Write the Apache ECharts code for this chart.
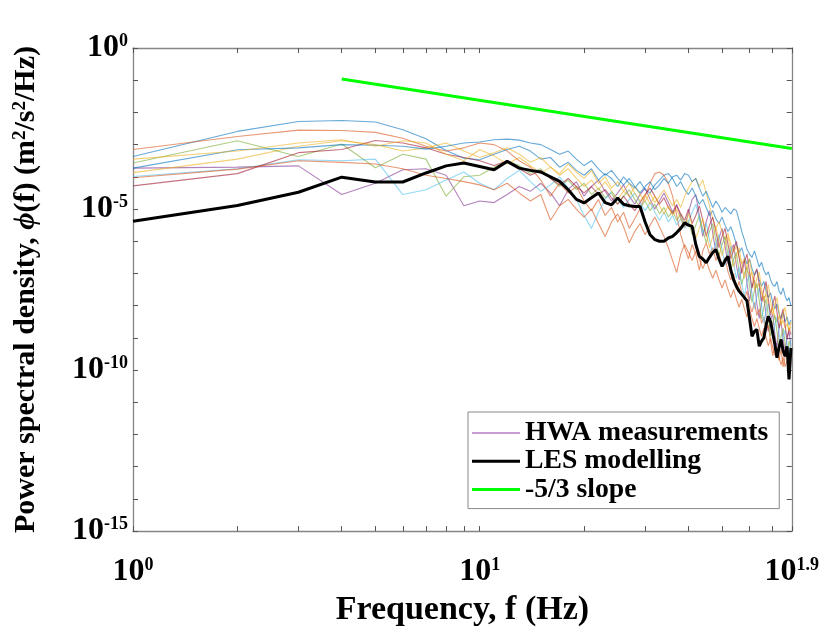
<!DOCTYPE html>
<html>
<head>
<meta charset="utf-8">
<script src="https://cdn.jsdelivr.net/npm/echarts@6/dist/echarts.min.js"></script>
<style>html,body{margin:0;padding:0;background:#fff}#c{width:822px;height:632px}</style>
</head>
<body>
<div id="c"></div>
<script>
// Frequencies (Hz)
const freqHz = [1,2,3,4,5,6,7,8,9,10,11,12,13,14,15,16,17,18,19,20,21,22,23,24,25,26,27,28,29,30,31,32,33,34,35,36,37,38,39,40,41,42,43,44,45,46,47,48,49,50,51,52,53,54,55,56,57,58,59,60,61,62,63,64,65,66,67,68,69,70,71,72,73,74,75,76,77,78,79];

// log10 of power spectral density (m^2/s^2/Hz)
const hwaPurpleLog = [-3.73,-3.70,-3.66,-4.55,-4.20,-3.78,-3.75,-3.95,-4.90,-4.75,-4.80,-4.55,-4.30,-4.45,-4.20,-4.50,-4.90,-4.40,-4.15,-4.60,-4.30,-4.10,-4.45,-4.75,-4.50,-4.25,-4.60,-4.85,-4.55,-4.35,-4.70,-5.00,-4.75,-4.50,-4.80,-5.10,-4.85,-5.25,-5.55,-5.10,-4.70,-4.55,-5.20,-5.85,-5.40,-5.05,-5.75,-6.35,-5.90,-5.60,-6.15,-6.70,-6.30,-6.10,-6.75,-7.20,-6.85,-6.55,-7.30,-7.85,-7.40,-7.20,-7.95,-8.40,-7.90,-7.70,-8.35,-8.80,-8.45,-8.25,-8.90,-9.30,-8.70,-8.50,-9.05,-9.40,-9.00,-8.80,-9.25];
const hwaBlue1Log = [-3.37,-2.59,-2.28,-2.25,-2.30,-2.54,-2.82,-3.18,-3.42,-3.47,-3.30,-3.15,-3.05,-3.20,-3.45,-3.40,-3.70,-3.55,-3.80,-3.95,-3.75,-4.10,-3.90,-4.05,-4.30,-4.00,-4.20,-4.35,-4.15,-4.40,-4.50,-4.25,-4.10,-3.95,-3.90,-4.05,-4.30,-4.15,-4.40,-4.55,-4.35,-4.60,-4.85,-4.70,-4.95,-5.20,-5.05,-5.30,-5.45,-5.25,-5.50,-5.70,-5.55,-5.80,-6.10,-6.35,-6.20,-6.50,-6.70,-6.55,-6.85,-7.05,-6.90,-7.20,-7.40,-7.25,-7.55,-7.75,-7.60,-7.90,-8.10,-7.95,-8.25,-8.40,-8.20,-8.50,-8.35,-8.60,-8.45];
const hwaOrange1Log = [-3.15,-2.75,-2.55,-2.56,-2.62,-2.80,-3.05,-3.20,-3.10,-2.95,-3.00,-3.20,-3.50,-3.70,-4.10,-4.60,-4.20,-4.50,-4.30,-4.75,-5.05,-4.70,-5.20,-4.95,-5.40,-5.10,-5.60,-5.30,-5.00,-4.60,-4.20,-3.90,-3.85,-3.95,-4.20,-4.60,-5.20,-5.80,-6.20,-6.55,-6.10,-6.40,-6.90,-6.30,-6.05,-6.40,-6.20,-6.60,-6.35,-6.80,-6.50,-6.95,-7.20,-7.00,-7.50,-7.25,-7.60,-7.80,-7.55,-7.95,-8.20,-7.90,-8.30,-8.10,-8.55,-8.35,-8.80,-8.60,-9.10,-9.55,-9.20,-9.45,-9.70,-9.35,-9.90,-9.60,-9.40,-9.75,-9.50];
const hwaYellow1Log = [-3.87,-3.45,-3.05,-2.88,-3.00,-3.20,-3.10,-2.95,-3.20,-3.40,-3.25,-3.10,-3.30,-3.55,-3.40,-3.70,-3.90,-3.60,-3.85,-4.05,-3.80,-4.20,-4.00,-4.35,-4.15,-4.45,-4.60,-4.30,-4.55,-4.75,-4.50,-4.80,-4.60,-4.40,-4.65,-4.90,-4.70,-4.95,-4.60,-4.35,-4.15,-4.05,-4.30,-4.10,-4.50,-4.90,-5.30,-5.60,-5.40,-5.70,-5.95,-5.75,-6.10,-6.35,-6.15,-6.50,-6.70,-6.55,-6.85,-7.10,-6.95,-7.25,-7.45,-7.30,-7.60,-7.80,-7.65,-7.95,-8.20,-8.05,-8.35,-8.50,-8.30,-8.60,-8.45,-8.70,-8.55,-8.80,-8.65];
const hwaGreenLog = [-3.57,-2.88,-3.37,-2.98,-3.72,-3.30,-3.45,-4.60,-4.00,-3.95,-3.70,-3.50,-3.65,-3.90,-3.75,-4.05,-4.30,-4.10,-4.40,-4.20,-4.55,-4.35,-4.65,-4.50,-4.85,-4.60,-4.40,-4.70,-4.95,-4.75,-5.05,-4.85,-5.15,-4.95,-5.25,-5.05,-5.35,-5.15,-5.45,-5.35,-5.80,-5.50,-5.20,-5.65,-6.05,-5.70,-5.45,-6.00,-6.45,-6.10,-5.85,-6.40,-6.90,-6.55,-6.35,-6.95,-7.35,-7.00,-6.80,-7.40,-7.90,-7.55,-7.30,-7.85,-8.40,-8.05,-7.80,-8.35,-8.95,-8.55,-8.30,-8.80,-9.35,-8.95,-8.70,-9.15,-9.50,-9.10,-9.30];
const hwaCyanLog = [-3.99,-3.75,-3.47,-3.50,-3.45,-4.55,-4.40,-4.10,-3.85,-4.20,-4.40,-4.05,-3.80,-4.15,-4.45,-4.25,-4.00,-4.35,-4.70,-5.20,-5.60,-5.10,-4.70,-4.45,-4.70,-4.95,-4.70,-4.50,-4.80,-5.05,-4.80,-5.10,-5.35,-5.10,-5.40,-5.20,-5.50,-5.30,-5.60,-5.40,-5.10,-4.85,-5.30,-5.75,-5.45,-5.95,-6.40,-6.05,-5.80,-6.25,-6.75,-6.40,-6.15,-6.70,-7.15,-6.80,-7.35,-7.70,-7.25,-7.05,-7.60,-8.10,-7.70,-7.45,-8.00,-8.55,-8.15,-7.95,-8.50,-9.00,-8.60,-8.35,-8.85,-9.30,-8.95,-8.75,-9.20,-9.55,-9.05];
const hwaRedLog = [-4.28,-3.90,-3.25,-3.15,-2.87,-2.95,-3.10,-3.30,-3.40,-3.50,-3.65,-3.50,-3.75,-3.95,-3.80,-4.05,-4.25,-4.05,-4.30,-4.50,-4.30,-4.55,-4.40,-4.65,-4.85,-4.60,-4.85,-5.05,-4.80,-4.55,-4.35,-4.60,-4.85,-4.65,-4.95,-5.15,-4.90,-5.15,-5.35,-5.00,-5.45,-5.20,-4.90,-5.35,-5.85,-5.50,-5.25,-5.70,-6.20,-5.85,-5.60,-6.10,-6.55,-6.25,-6.00,-6.50,-7.00,-6.65,-6.40,-6.95,-7.45,-7.05,-6.85,-7.35,-7.85,-7.50,-7.25,-7.80,-8.30,-7.95,-7.70,-8.20,-8.70,-8.35,-8.10,-8.60,-9.05,-8.70,-8.90];
const hwaBlue2Log = [-3.73,-3.16,-3.10,-3.00,-3.02,-3.05,-3.14,-3.05,-2.95,-2.92,-2.85,-2.83,-2.86,-2.95,-3.00,-3.15,-3.30,-3.20,-3.45,-3.65,-3.50,-3.75,-3.95,-3.80,-4.05,-4.25,-4.05,-4.30,-4.50,-4.30,-4.15,-4.40,-4.25,-4.05,-4.20,-4.00,-3.95,-4.10,-3.90,-3.95,-4.15,-4.05,-4.35,-4.60,-4.45,-4.70,-4.95,-4.75,-4.90,-5.10,-4.95,-5.05,-5.15,-5.00,-5.05,-5.35,-5.70,-5.95,-6.25,-6.40,-6.50,-6.30,-6.55,-6.80,-6.65,-6.90,-7.05,-6.95,-7.20,-7.35,-7.40,-7.25,-7.55,-7.65,-7.45,-7.70,-7.85,-7.75,-8.00];
const hwaOrange2Log = [-4.03,-3.76,-3.50,-3.55,-3.60,-3.75,-3.95,-4.05,-4.15,-4.25,-4.40,-4.20,-4.50,-4.75,-4.55,-5.35,-4.90,-4.70,-5.00,-5.25,-5.00,-5.45,-5.85,-5.40,-5.15,-5.55,-6.05,-5.70,-5.45,-5.80,-5.50,-5.25,-5.55,-5.85,-6.20,-6.60,-6.97,-6.40,-6.10,-6.35,-6.60,-6.30,-6.55,-6.85,-6.60,-6.90,-7.15,-6.90,-7.20,-7.45,-7.20,-7.50,-7.75,-7.50,-7.80,-8.05,-7.80,-8.10,-8.35,-8.10,-8.40,-8.65,-8.40,-8.70,-8.95,-8.70,-9.00,-9.25,-9.00,-9.30,-9.55,-9.30,-9.60,-9.85,-9.60,-9.90,-9.70,-9.95,-9.75];
const hwaYellow2Log = [-3.45,-3.20,-2.95,-2.85,-3.05,-2.88,-2.95,-3.30,-3.50,-3.15,-3.35,-3.60,-3.40,-3.65,-3.90,-3.70,-3.95,-3.75,-4.05,-4.30,-4.10,-4.40,-4.15,-4.45,-4.70,-4.45,-4.20,-4.50,-4.75,-4.55,-4.85,-4.60,-4.90,-5.15,-4.90,-5.20,-5.00,-5.30,-5.55,-5.15,-5.50,-5.90,-5.60,-5.30,-5.75,-6.20,-5.85,-5.55,-6.00,-6.45,-6.10,-5.85,-6.35,-6.80,-6.45,-6.20,-6.70,-7.15,-6.80,-6.55,-7.05,-7.50,-7.15,-6.95,-7.45,-7.90,-7.55,-7.35,-7.85,-8.30,-7.95,-7.75,-8.20,-8.60,-8.25,-8.05,-8.45,-8.80,-8.50];
const lesLog = [-5.38,-4.89,-4.48,-4.01,-4.16,-4.16,-3.88,-3.66,-3.57,-3.68,-3.78,-3.52,-3.73,-3.80,-3.85,-4.00,-4.14,-4.40,-4.70,-4.81,-4.65,-4.50,-4.80,-4.87,-4.66,-4.85,-4.90,-4.92,-4.92,-5.40,-5.80,-5.95,-6.00,-6.00,-5.90,-5.85,-5.73,-5.60,-5.43,-5.50,-5.54,-6.10,-6.47,-6.55,-6.67,-6.50,-6.35,-6.26,-6.55,-6.78,-6.60,-6.47,-6.90,-7.20,-7.40,-7.55,-7.65,-7.75,-7.85,-8.40,-8.95,-8.80,-8.74,-9.26,-9.10,-9.00,-8.60,-8.33,-8.50,-8.84,-9.20,-9.62,-9.30,-9.05,-9.40,-9.57,-9.26,-10.29,-9.31];

// -5/3 reference slope end points
const slopeFreq = [4, 79.43];
const slopeLog = [-0.96, -3.12];

// Tick positions and labels
const xTickValues = [1,2,3,4,5,6,7,8,9,10,20,30,40,50,60,70,79.43];
const xLabelValues = [1,10,79.43];
const yTickValues = [1,1e-1,1e-2,1e-3,1e-4,1e-5,1e-6,1e-7,1e-8,1e-9,1e-10,1e-11,1e-12,1e-13,1e-14,1e-15];
const yLabelValues = [1,1e-5,1e-10,1e-15];
const legendNames = ['HWA measurements', 'LES modelling', '-5/3 slope'];

const hwaSets = [
  {log: hwaPurpleLog, color: '#7E2F8E'},
  {log: hwaBlue1Log, color: '#0072BD'},
  {log: hwaOrange1Log, color: '#D95319'},
  {log: hwaYellow1Log, color: '#EDB120'},
  {log: hwaGreenLog, color: '#77AC30'},
  {log: hwaCyanLog, color: '#4DBEEE'},
  {log: hwaRedLog, color: '#A2142F'},
  {log: hwaBlue2Log, color: '#0072BD'},
  {log: hwaOrange2Log, color: '#D95319'},
  {log: hwaYellow2Log, color: '#EDB120'}
];

const FONT = '"Liberation Serif", "Times New Roman", serif';
const toPairs = (fs, logs) => fs.map((f, i) => [f, Math.pow(10, logs[i])]);

const series = hwaSets.map(s => ({
  name: legendNames[0], type: 'line', symbol: 'none',
  data: toPairs(freqHz, s.log),
  lineStyle: {color: s.color, width: 1.1, opacity: 0.6},
  itemStyle: {color: s.color},
  emphasis: {disabled: true}, z: 2, animation: false
}));
series.push({
  name: legendNames[1], type: 'line', symbol: 'none',
  data: toPairs(freqHz, lesLog),
  lineStyle: {color: '#000', width: 3}, itemStyle: {color: '#000'},
  emphasis: {disabled: true}, z: 3, animation: false
});
series.push({
  name: legendNames[2], type: 'line', symbol: 'none',
  data: toPairs(slopeFreq, slopeLog),
  lineStyle: {color: '#00FF00', width: 3}, itemStyle: {color: '#00FF00'},
  emphasis: {disabled: true}, z: 4, animation: false
});

const expOf = v => {
  const e = Math.round(Math.log10(v) * 10) / 10;
  return (e === 0 ? 0 : e).toString();
};
const richLbl = {
  b: {fontFamily: FONT, fontWeight: 'bold', fontSize: 32, color: '#000'},
  s: {fontFamily: FONT, fontWeight: 'bold', fontSize: 18, color: '#000', verticalAlign: 'top'}
};
const axisLineStyle = {color: '#858585', width: 1.3};

const xBase = {
  type: 'log', logBase: 10, min: 1, max: 79.43,
  axisLine: {show: true, lineStyle: axisLineStyle},
  axisTick: {show: true, inside: true, length: 5, customValues: xTickValues, lineStyle: {color: '#555', width: 1}},
  splitLine: {show: false}, minorTick: {show: false}
};
const yBase = {
  type: 'log', logBase: 10, min: 1e-15, max: 1,
  axisLine: {show: true, lineStyle: axisLineStyle},
  axisTick: {show: true, inside: true, length: 5, customValues: yTickValues, lineStyle: {color: '#555', width: 1}},
  splitLine: {show: false}, minorTick: {show: false}
};

const thinIcon = 'path://M0,0H0.05V0.05H0Z M0,6.3H48V7.7H0Z M47.95,13.95H48V14H47.95Z';
const thickIcon = 'path://M0,0H0.05V0.05H0Z M0,5.5H48V8.5H0Z M47.95,13.95H48V14H47.95Z';

const option = {
  backgroundColor: '#fff',
  animation: false,
  grid: {left: 133, right: 23, top: 48, bottom: 100, containLabel: false},
  xAxis: [
    Object.assign({}, xBase, {
      position: 'bottom',
      axisLabel: {show: true, customValues: xLabelValues, margin: 25,
        formatter: v => '{b|10}{s|' + expOf(v) + '}', rich: richLbl},
      name: 'Frequency, f (Hz)', nameLocation: 'middle', nameGap: 57,
      nameTextStyle: {fontFamily: FONT, fontWeight: 'bold', fontSize: 34, color: '#000'}
    }),
    Object.assign({}, xBase, {position: 'top', axisLabel: {show: false}})
  ],
  yAxis: [
    Object.assign({}, yBase, {
      position: 'left',
      axisLabel: {show: true, customValues: yLabelValues, margin: 5,
        formatter: v => '{b|10}{s|' + expOf(v) + '}', rich: richLbl},
      name: '{t|Power spectral density, }{i|ϕ}{t|(f) (m}{s|2}{t|/s}{s|2}{t|/Hz)}',
      nameLocation: 'middle', nameGap: 92, nameRotate: 90,
      nameTextStyle: {
        rich: {
          t: {fontFamily: FONT, fontWeight: 'bold', fontSize: 30, color: '#000'},
          i: {fontFamily: FONT, fontStyle: 'italic', fontWeight: 'bold', fontSize: 30, color: '#000'},
          s: {fontFamily: FONT, fontWeight: 'bold', fontSize: 19, color: '#000', verticalAlign: 'top'}
        }
      }
    }),
    Object.assign({}, yBase, {position: 'right', axisLabel: {show: false}})
  ],
  legend: {
    show: true, orient: 'vertical', left: 468, top: 412,
    data: [
      {name: legendNames[0], icon: thinIcon, itemStyle: {color: '#B27DC4', opacity: 1}},
      {name: legendNames[1], icon: thickIcon, itemStyle: {color: '#000'}},
      {name: legendNames[2], icon: thickIcon, itemStyle: {color: '#00FF00'}}
    ],
    itemWidth: 48, itemHeight: 14, itemGap: 0.3,
    backgroundColor: '#fff', borderColor: '#888', borderWidth: 1,
    padding: [7, 11, 5, 4],
    textStyle: {fontFamily: FONT, fontWeight: 'bold', fontSize: 27.7, color: '#000'},
    selectedMode: false
  },
  series: series
};

const chart = echarts.init(document.getElementById('c'), null, {renderer: 'canvas'});
chart.setOption(option);
</script>
</body>
</html>
